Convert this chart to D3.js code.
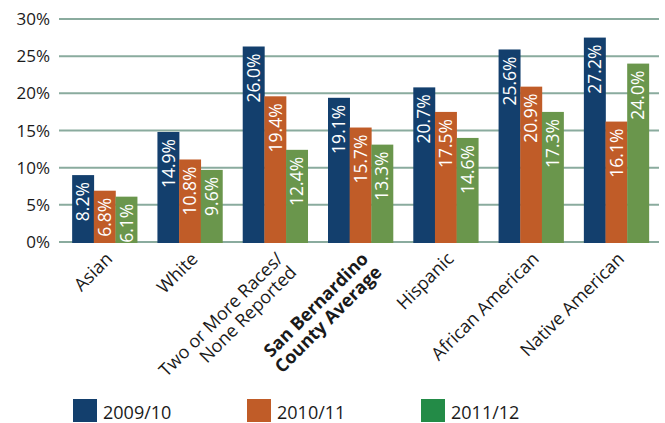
<!DOCTYPE html>
<html>
<head>
<meta charset="utf-8">
<script src="https://cdn.jsdelivr.net/npm/d3@7"></script>
<style>
  html, body { margin: 0; padding: 0; background: #fff; }
  svg { display: block; font-family: "Open Sans", "Noto Sans", sans-serif; }
</style>
</head>
<body>
<svg id="chart" width="665" height="423"></svg>
<script>
// ---- data ----
const categories = [
  ["Asian"],
  ["White"],
  ["Two or More Races/", "None Reported"],
  ["San Bernardino", "County Average"],
  ["Hispanic"],
  ["African American"],
  ["Native American"]
];
const boldCategory = "San Bernardino";
const seriesNames = ["2009/10", "2010/11", "2011/12"];
// bar heights as drawn (%)
const values2009 = [9.0, 14.8, 26.3, 19.4, 20.8, 25.9, 27.5];
const values2010 = [6.9, 11.1, 19.6, 15.4, 17.5, 20.9, 16.2];
const values2011 = [6.1, 9.7, 12.4, 13.1, 14.0, 17.5, 24.0];
// printed data labels
const labels2009 = ["8.2%", "14.9%", "26.0%", "19.1%", "20.7%", "25.6%", "27.2%"];
const labels2010 = ["6.8%", "10.8%", "19.4%", "15.7%", "17.5%", "20.9%", "16.1%"];
const labels2011 = ["6.1%", "9.6%", "12.4%", "13.3%", "14.6%", "17.3%", "24.0%"];
const yTicks = [0, 5, 10, 15, 20, 25, 30];

const barColors = ["#133f6d", "#c05c28", "#6a964c"];
const legendColors = ["#133f6d", "#c05c28", "#238b47"];

const seriesValues = [values2009, values2010, values2011];
const seriesLabels = [labels2009, labels2010, labels2011];
const catKeys = categories.map(c => c.join(" "));

// ---- scales ----
const svg = d3.select("#chart");
const y = d3.scaleLinear().domain([0, 30]).range([242, 19]);
const x = d3.scaleBand().domain(catKeys).range([62, 659])
  .paddingInner(0.238).paddingOuter(0.119);
const xs = d3.scaleBand().domain(seriesNames).range([0, x.bandwidth()]);

// ---- gridlines ----
svg.append("g").selectAll("line").data(yTicks).join("line")
  .attr("x1", 59).attr("x2", 659)
  .attr("y1", d => y(d)).attr("y2", d => y(d))
  .attr("stroke", "#8aab9e").attr("stroke-width", 2);

// ---- y tick labels ----
svg.append("g").selectAll("text").data(yTicks).join("text")
  .attr("x", 50).attr("y", d => y(d)).attr("dy", "0.36em")
  .attr("text-anchor", "end")
  .attr("font-size", 17).attr("fill", "#1a1a1a")
  .text(d => d + "%");

// ---- bars ----
const groups = svg.append("g").selectAll("g").data(catKeys).join("g")
  .attr("transform", d => `translate(${x(d)},0)`);

groups.each(function (cat, ci) {
  const g = d3.select(this);
  seriesNames.forEach((s, si) => {
    const v = seriesValues[si][ci];
    g.append("rect")
      .attr("x", xs(s)).attr("width", xs.bandwidth() + 0.3)
      .attr("y", y(v)).attr("height", y(0) - y(v) + 1)
      .attr("fill", barColors[si]);
    g.append("text")
      .attr("transform", `translate(${xs(s) + xs.bandwidth() / 2},${y(v) + 7}) rotate(-90)`)
      .attr("text-anchor", "end").attr("dy", "0.36em")
      .attr("font-size", 17.5).attr("fill", "#fff")
      .text(seriesLabels[si][ci]);
  });
});

// ---- x labels ----
const xl = svg.append("g").selectAll("text").data(categories).join("text")
  .attr("transform", d => `translate(${x(d.join(" ")) + x.bandwidth() / 2 + 9},260) rotate(-45)`)
  .attr("text-anchor", "end")
  .attr("font-size", 18).attr("fill", "#1a1a1a")
  .attr("font-weight", d => d[0] === boldCategory ? "bold" : "normal");
xl.each(function (d) {
  const t = d3.select(this);
  d.forEach((line, i) => {
    t.append("tspan").attr("x", 0).attr("dy", i === 0 ? 0 : "1.05em").text(line);
  });
});

// ---- legend ----
const lx = d3.scalePoint().domain(seriesNames).range([73, 421]);
const lg = svg.append("g").selectAll("g").data(seriesNames).join("g")
  .attr("transform", d => `translate(${lx(d)},399)`);
lg.append("rect").attr("width", 24).attr("height", 23)
  .attr("fill", (d, i) => legendColors[i]);
lg.append("text").attr("x", 30).attr("y", 20)
  .attr("font-size", 18).attr("fill", "#1a1a1a")
  .text(d => d);
</script>
</body>
</html>
